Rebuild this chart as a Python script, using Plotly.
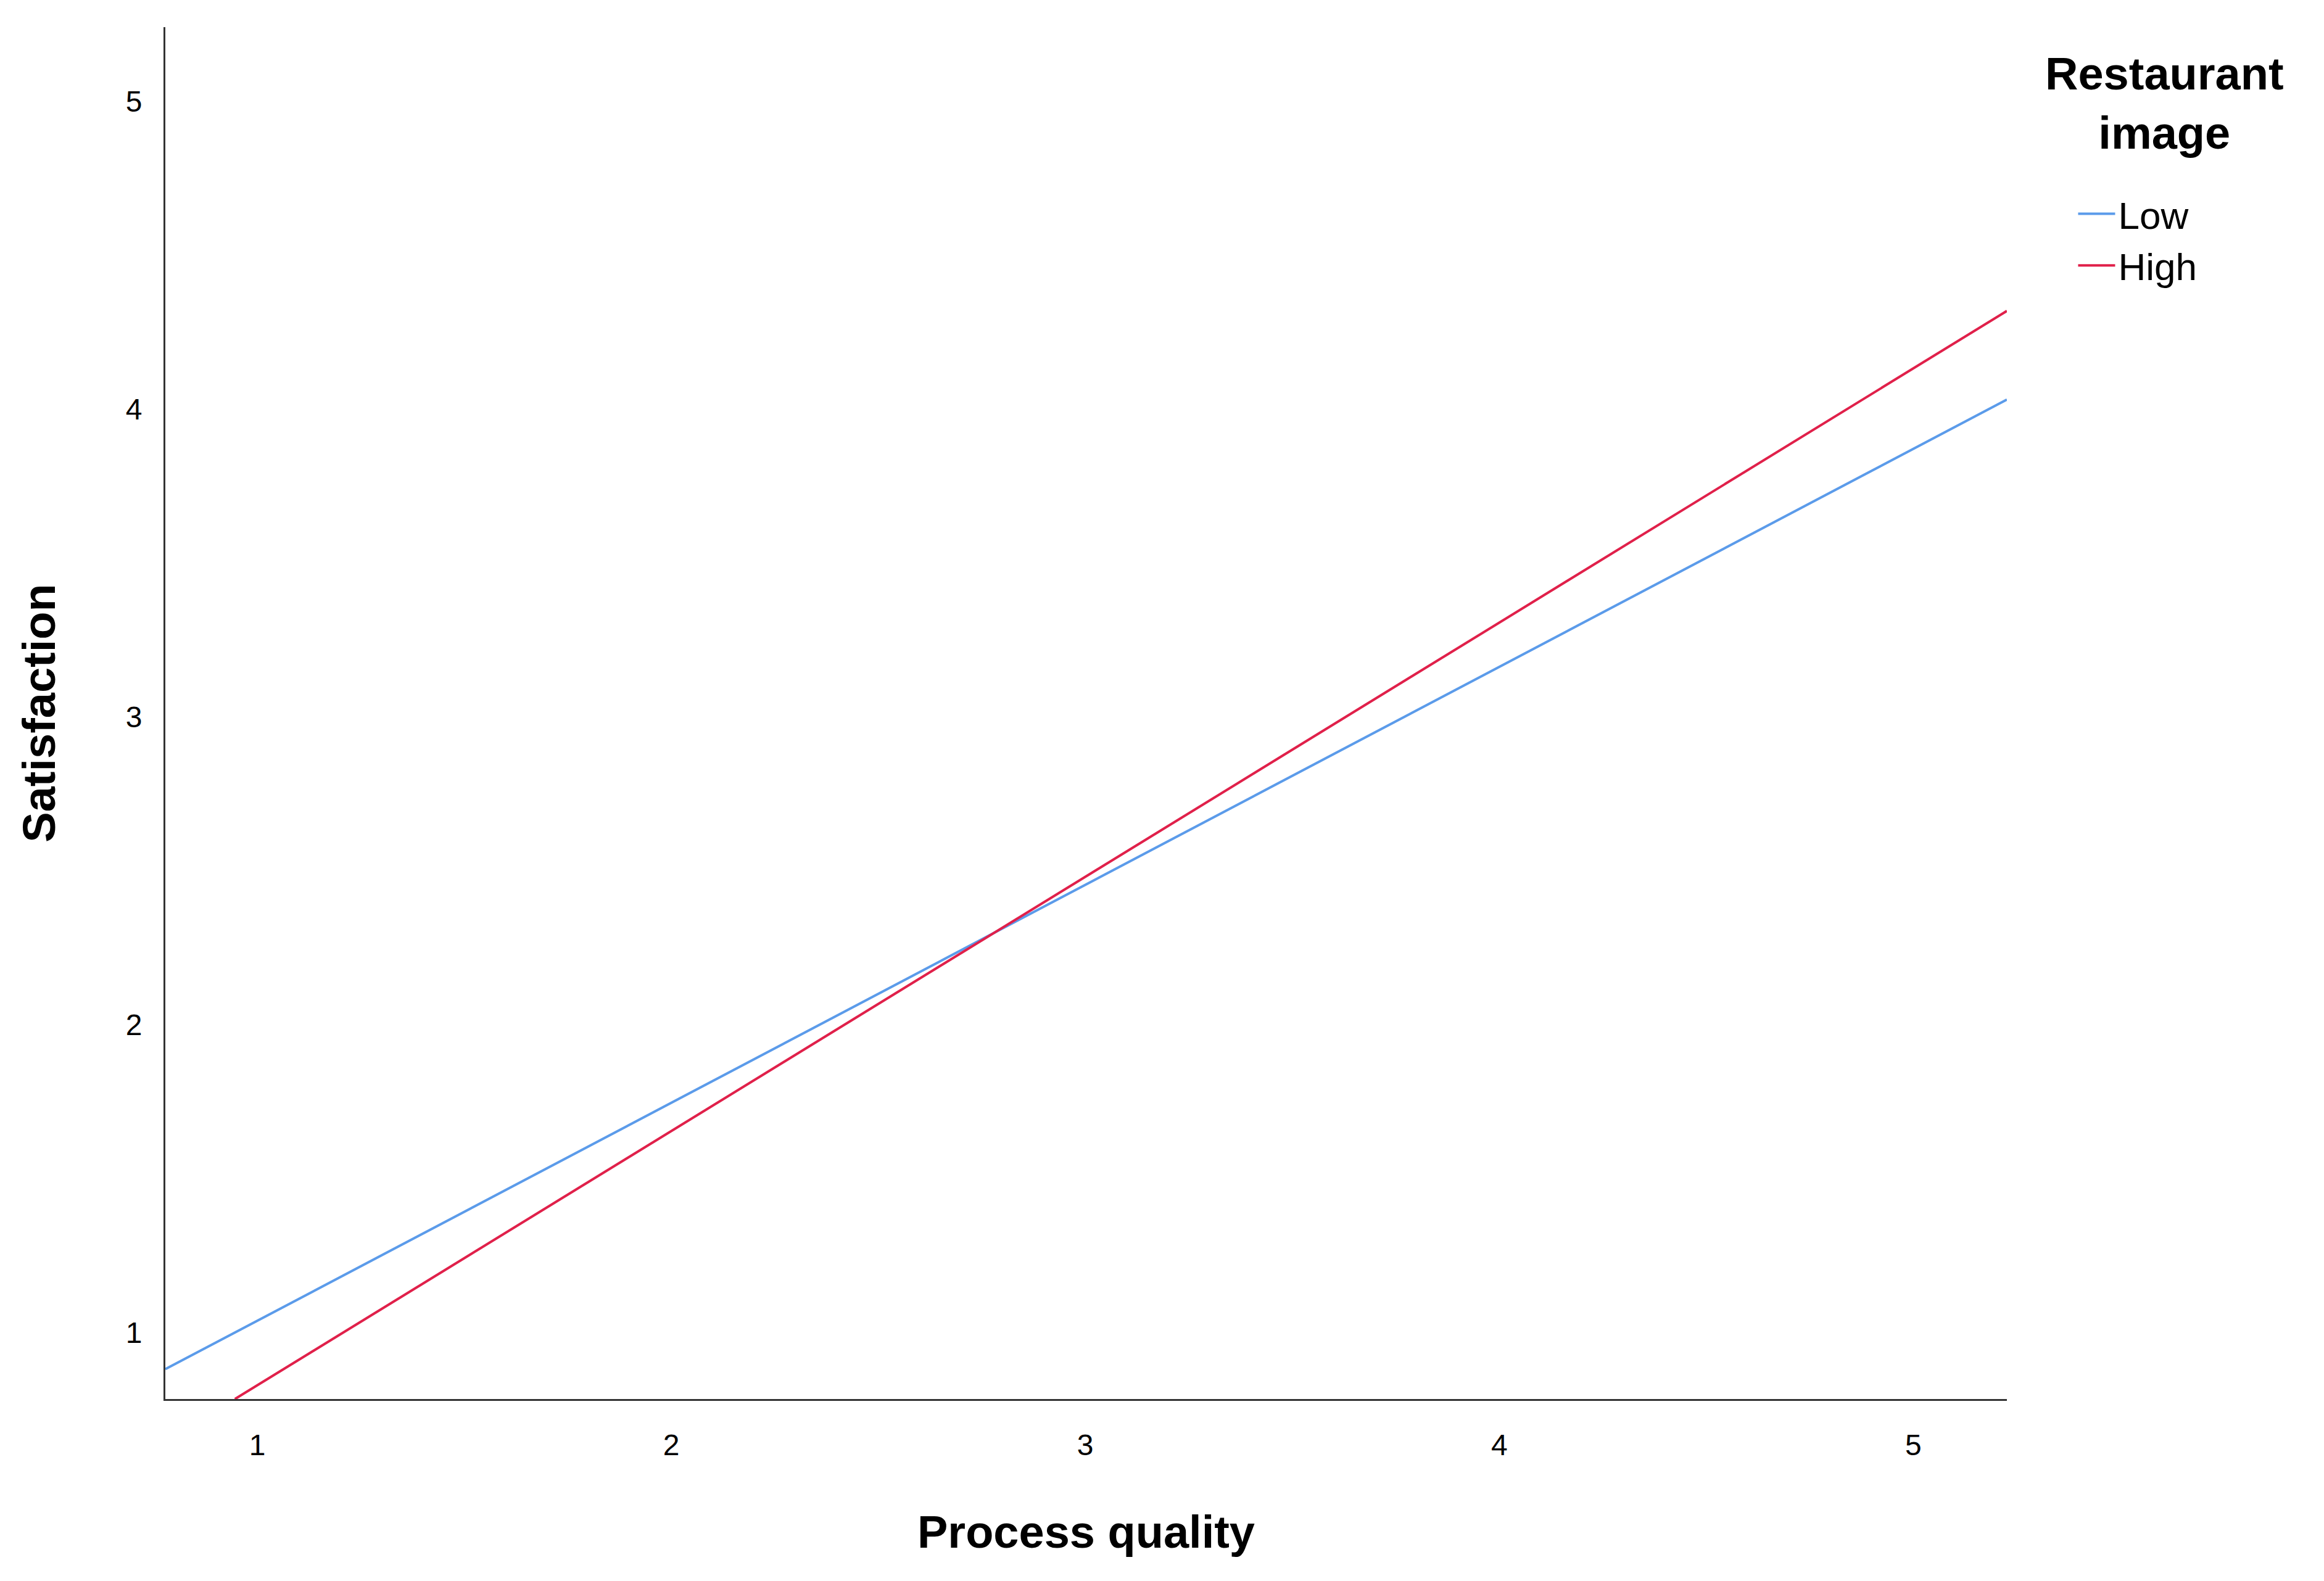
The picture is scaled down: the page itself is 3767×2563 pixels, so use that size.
import plotly.graph_objects as go

x_low = [0.778, 5.226]
y_low = [0.88, 4.03]
x_high = [0.946, 5.226]
y_high = [0.783, 4.318]
series_names = ["Low", "High"]
colors = ["#5B9BEA", "#E0204A"]
x_ticks = [1, 2, 3, 4, 5]
y_ticks = [1, 2, 3, 4, 5]

W, H = 3767, 2563
fig = go.Figure()
fig.add_trace(go.Scatter(x=x_low, y=y_low, mode="lines", name=series_names[0],
                         line=dict(color=colors[0], width=4)))
fig.add_trace(go.Scatter(x=x_high, y=y_high, mode="lines", name=series_names[1],
                         line=dict(color=colors[1], width=4)))

font = "Liberation Sans, Arial, sans-serif"
fig.update_layout(
    width=W, height=H, plot_bgcolor="white", paper_bgcolor="white",
    margin=dict(l=260, r=W - 3245, t=36, b=H - 2260),
    font=dict(family=font, color="#000"),
    xaxis=dict(range=[0.778, 5.226], tickvals=x_ticks, showgrid=False, zeroline=False,
               showline=True, linecolor="#333", linewidth=3, ticks="",
               tickfont=dict(size=48), ticklabelstandoff=30,
               title=dict(text="<b>Process quality</b>", font=dict(size=74), standoff=90)),
    yaxis=dict(range=[0.783, 5.24], tickvals=y_ticks, showgrid=False, zeroline=False,
               showline=True, linecolor="#333", linewidth=3, ticks="",
               tickfont=dict(size=48), ticklabelstandoff=25,
               title=dict(text="<b>Satisfaction</b>", font=dict(size=74), standoff=90)),
    legend=dict(x=1.037, y=0.885, xanchor="left", yanchor="top", font=dict(size=62),
                bgcolor="rgba(0,0,0,0)", itemwidth=60),
    annotations=[dict(text="<b>Restaurant<br>image</b>",
                      x=(3500 - 260) / (3245 - 260), y=(2260 - 160) / (2260 - 36),
                      xref="paper", yref="paper", xanchor="center", yanchor="middle",
                      showarrow=False, font=dict(size=74), align="center")],
)
fig.write_html("out.html")
